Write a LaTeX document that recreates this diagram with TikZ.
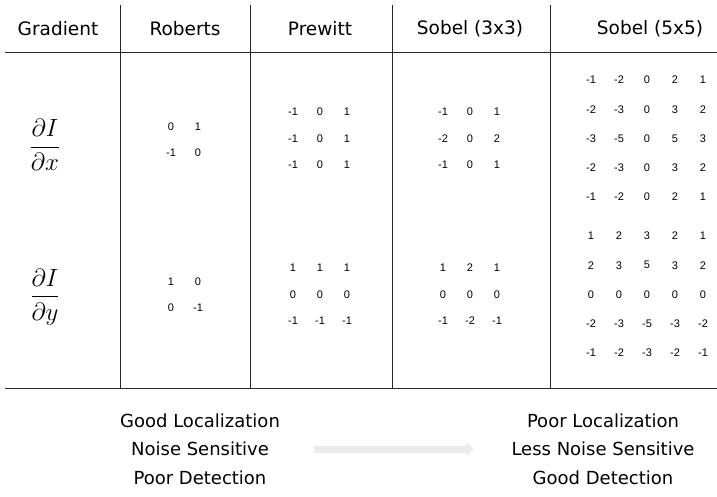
\documentclass[tikz,border=0pt]{standalone}
\usepackage{amsmath}
\usepackage{fontspec}
\setmainfont{DejaVu Sans}
\newfontfamily\numf{Liberation Sans}
\begin{document}
\begin{tikzpicture}[x=1pt,y=-1pt,
  hdr/.style={font=\fontsize{18.5}{22}\selectfont},
  num/.style={font=\numf\fontsize{11}{13}\selectfont},
  bot/.style={font=\fontsize{18}{22}\selectfont},
  frac/.style={font=\fontsize{23}{27}\selectfont},
  rule/.style={line width=0.8pt,black!85}]
\useasboundingbox (0,0) rectangle (717,497);
\draw[rule] (5,52) -- (717,52);
\draw[rule] (5,388) -- (717,388);
\foreach \x in {120,250,392,550} \draw[rule] (\x,5) -- (\x,388);
\node[hdr] (h1) at (58,29) {Gradient};
\node[hdr] (h2) at (185,29) {Roberts};
\node[hdr] (h3) at (320,29) {Prewitt};
\node[hdr] (h4) at (470,29) {Sobel (3x3)};
\node[hdr] (h5) at (650,29) {Sobel (5x5)};
\node[frac] (fx) at (45,145) {$\dfrac{\partial I}{\partial x}$};
\node[frac] (fy) at (45,297) {$\dfrac{\partial I}{\partial y}$};
% Roberts
\foreach \v [count=\i from 0] in {0,1,-1,0}
  \node[num] (rx\i) at ({171+27*mod(\i,2)},{127+26*div(\i,2)}) {\v};
\foreach \v [count=\i from 0] in {1,0,0,-1}
  \node[num] (ry\i) at ({171+27*mod(\i,2)},{282+26*div(\i,2)}) {\v};
% Prewitt
\foreach \v [count=\i from 0] in {-1,0,1,-1,0,1,-1,0,1}
  \node[num] (px\i) at ({293+27*mod(\i,3)},{112+26.5*div(\i,3)}) {\v};
\foreach \v [count=\i from 0] in {1,1,1,0,0,0,-1,-1,-1}
  \node[num] (py\i) at ({293+27*mod(\i,3)},{268+26.5*div(\i,3)}) {\v};
% Sobel 3
\foreach \v [count=\i from 0] in {-1,0,1,-2,0,2,-1,0,1}
  \node[num] (sx\i) at ({443+27*mod(\i,3)},{112+26.5*div(\i,3)}) {\v};
\foreach \v [count=\i from 0] in {1,2,1,0,0,0,-1,-2,-1}
  \node[num] (sy\i) at ({443+27*mod(\i,3)},{268+26.5*div(\i,3)}) {\v};
% Sobel 5
\foreach \v [count=\i from 0] in {-1,-2,0,2,1,-2,-3,0,3,2,-3,-5,0,5,3,-2,-3,0,3,2,-1,-2,0,2,1}
  \node[num] (tx\i) at ({591+28*mod(\i,5)},{80+29.25*div(\i,5)}) {\v};
\foreach \v [count=\i from 0] in {1,2,3,2,1,2,3,5,3,2,0,0,0,0,0,-2,-3,-5,-3,-2,-1,-2,-3,-2,-1}
  \node[num] (ty\i) at ({591+28*mod(\i,5)},{236+29.25*div(\i,5)}) {\v};
% bottom
\node[bot] (l1) at (200,421) {Good Localization};
\node[bot] (l2) at (200,449) {Noise Sensitive};
\node[bot] (l3) at (200,478) {Poor Detection};
\node[bot] (r1) at (603,421) {Poor Localization};
\node[bot] (r2) at (603,449) {Less Noise Sensitive};
\node[bot] (r3) at (603,478) {Good Detection};
\coordinate (a1) at (314,449);
\coordinate (a2) at (474,449);
\draw[black!8,line width=7pt] (a1) -- (466,449);
\fill[black!8] (466,442) -- (a2) -- (466,456) -- cycle;
\end{tikzpicture}
\end{document}
